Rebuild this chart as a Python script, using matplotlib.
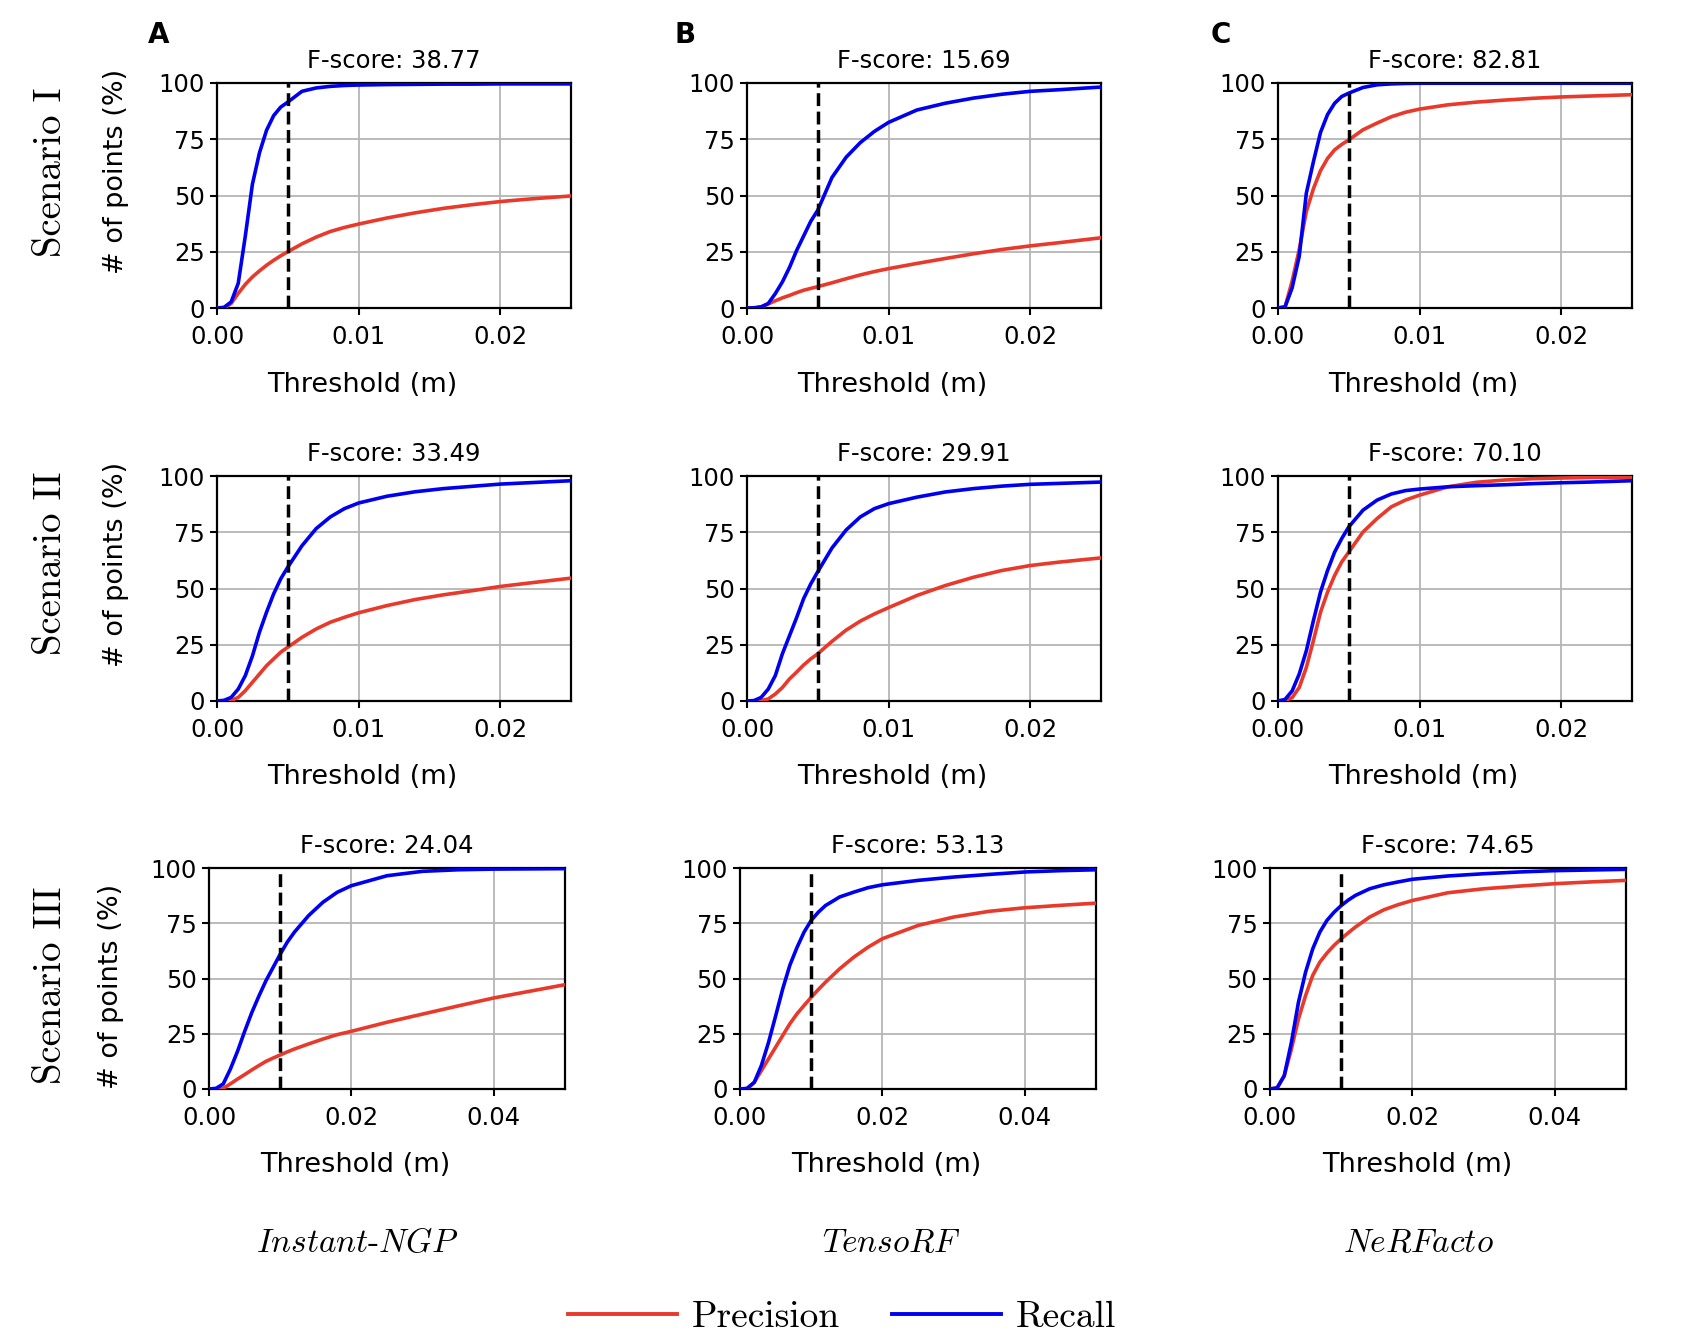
import matplotlib
matplotlib.use("Agg")
import matplotlib.pyplot as plt
from matplotlib.lines import Line2D
from matplotlib.ticker import FormatStrFormatter

plt.rcParams['mathtext.fontset'] = 'cm'
plt.rcParams['font.family'] = ['DejaVu Sans']

# ---------------- data ----------------
x_short = [0, 0.0005, 0.001, 0.0015, 0.002, 0.0025, 0.003, 0.0035, 0.004, 0.0045, 0.005,
           0.006, 0.007, 0.008, 0.009, 0.010, 0.012, 0.014, 0.016, 0.018, 0.020, 0.022, 0.025]
x_long = [0, 0.001, 0.002, 0.003, 0.004, 0.005, 0.006, 0.007, 0.008, 0.009, 0.010, 0.011,
          0.012, 0.014, 0.016, 0.018, 0.020, 0.025, 0.030, 0.035, 0.040, 0.045, 0.050]

scenarios = ["Scenario I", "Scenario II", "Scenario III"]
methods = ["Instant-NGP", "TensoRF", "NeRFacto"]
panel_letters = ["A", "B", "C"]
thresholds = [0.005, 0.005, 0.01]
fscores = [["38.77", "15.69", "82.81"],
           ["33.49", "29.91", "70.10"],
           ["24.04", "53.13", "74.65"]]

# Scenario I
ngp_s1_recall = [0, 0.3, 2.7, 11, 32, 55, 69, 79, 85.5, 89.3, 91.5,
                 96.3, 97.8, 98.5, 98.9, 99.1, 99.3, 99.4, 99.5, 99.5, 99.6, 99.6, 99.6]
ngp_s1_precision = [0, 0, 2, 6.5, 10.5, 13.8, 16.5, 19, 21.2, 23.2, 25,
                    28.5, 31.5, 34, 35.8, 37.3, 40, 42.3, 44.3, 45.9, 47.3, 48.4, 49.8]
tensorf_s1_recall = [0, 0.1, 0.5, 2, 6.4, 11.6, 18, 25.5, 32, 38.5, 43.5,
                     58, 67, 73.5, 78.5, 82.5, 88, 91, 93.3, 95, 96.3, 97, 98.2]
tensorf_s1_precision = [0, 0, 0.5, 1.8, 3.2, 4.5, 5.6, 6.8, 7.9, 8.7, 9.5,
                        11.2, 13, 14.7, 16.2, 17.5, 19.8, 22, 24.1, 26, 27.6, 29, 31.2]
nerfacto_s1_recall = [0, 0.5, 9, 23, 51, 65, 78, 86, 91, 94, 95.5,
                      98, 99.2, 99.6, 99.8, 99.9, 99.9, 99.9, 99.9, 99.9, 99.9, 99.9, 99.9]
nerfacto_s1_precision = [0, 0.5, 12, 26, 42.8, 53, 61, 66.5, 70.3, 72.7, 74.7,
                         79.2, 82.2, 85, 87, 88.4, 90.3, 91.5, 92.4, 93.2, 93.8, 94.2, 94.8]

# Scenario II
ngp_s2_recall = [0, 0.3, 1.6, 5.3, 11.3, 20, 30.6, 39.5, 47.6, 54.3, 59.5,
                 69, 76.6, 81.8, 85.5, 88, 91, 93, 94.4, 95.4, 96.4, 97, 97.9]
ngp_s2_precision = [0, 0, 0.2, 1.6, 4.6, 8.3, 12, 15.7, 18.7, 21.7, 23.9,
                    28.3, 32, 35, 37.2, 39.2, 42.4, 45.1, 47.2, 49, 50.9, 52.4, 54.6]
tensorf_s2_recall = [0, 0.2, 1.6, 5.3, 11.3, 21, 29, 37, 45.5, 52, 57.5,
                     68, 76, 81.8, 85.5, 87.7, 90.6, 92.9, 94.4, 95.5, 96.3, 96.7, 97.3]
tensorf_s2_precision = [0, 0, 0.2, 0.9, 3.1, 6, 9.8, 12.8, 16, 18.7, 21,
                        26.5, 31.5, 35.5, 38.7, 41.5, 46.9, 51.3, 55, 58, 60.2, 61.7, 63.6]
nerfacto_s2_recall = [0, 0.7, 4.5, 12, 22.3, 35.7, 48.4, 58, 66.2, 72.2, 77.4,
                      84.8, 89.3, 92, 93.5, 94.2, 95.2, 95.7, 96.1, 96.6, 97, 97.3, 97.9]
nerfacto_s2_precision = [0, 0.2, 1.5, 6, 14.9, 26.8, 39.4, 48.4, 55.8, 61.8, 66.2,
                         75.1, 81.1, 86.3, 89.3, 91.5, 95.2, 97.2, 98.2, 98.8, 99.1, 99.3, 99.4]

# Scenario III
ngp_s3_recall = [0, 0.3, 2.3, 9, 17, 26, 34.5, 42, 49, 55, 61, 66.5,
                 71, 78.5, 84.5, 89, 92, 96.5, 98.5, 99.2, 99.5, 99.6, 99.7]
ngp_s3_precision = [0, 0, 0.3, 2.3, 4.5, 6.5, 8.6, 10.6, 12.5, 14, 15.4, 16.8,
                    18.1, 20.4, 22.6, 24.6, 26.1, 30.2, 33.9, 37.6, 41.2, 44.2, 47.2]
tensorf_s3_recall = [0, 0.3, 3, 10.6, 21, 33, 45.3, 56, 64, 71, 76.3, 80,
                     83, 86.9, 89.1, 91.1, 92.4, 94.4, 95.9, 97.1, 98.2, 98.8, 99.2]
tensorf_s3_precision = [0, 0.1, 3, 8.3, 13.6, 18.9, 24.2, 29.5, 34, 37.8, 41.5, 45,
                        48.3, 54.4, 59.7, 64.2, 68, 74, 77.8, 80.4, 82, 83.1, 84.1]
nerfacto_s3_recall = [0, 0.5, 6, 21, 39.3, 52.9, 63.4, 71, 76.3, 80, 83, 85.5,
                      87.6, 90.6, 92.4, 93.7, 94.9, 96.4, 97.4, 98.2, 98.8, 99.1, 99.4]
nerfacto_s3_precision = [0, 0.5, 6, 18, 31.7, 42.3, 51.4, 57.4, 61.5, 65, 68, 70.7,
                         73.3, 77.8, 81.1, 83.4, 85.3, 88.8, 90.6, 91.8, 92.9, 93.7, 94.4]

x_values = [x_short, x_short, x_long]
recall = [[ngp_s1_recall, tensorf_s1_recall, nerfacto_s1_recall],
          [ngp_s2_recall, tensorf_s2_recall, nerfacto_s2_recall],
          [ngp_s3_recall, tensorf_s3_recall, nerfacto_s3_recall]]
precision = [[ngp_s1_precision, tensorf_s1_precision, nerfacto_s1_precision],
             [ngp_s2_precision, tensorf_s2_precision, nerfacto_s2_precision],
             [ngp_s3_precision, tensorf_s3_precision, nerfacto_s3_precision]]
x_max = [0.025, 0.025, 0.05]
x_ticks = [[0, 0.01, 0.02], [0, 0.01, 0.02], [0, 0.02, 0.04]]

# ---------------- layout ----------------
W, H = 1684, 1342
fig = plt.figure(figsize=(W / 100, H / 100), dpi=100)

RED = '#e8392b'
BLUE = '#0000f0'

col_left = [[217, 747, 1278], [217, 747, 1278], [209, 740, 1270]]
col_w = [354, 354, 356]
row_top = [83, 476, 868]
row_h = [225, 225, 221]
xlabel_x = [[362, 892, 1423], [362, 892, 1423], [355, 886, 1417]]
xlabel_y = [385, 777, 1165]
ylabel_x = [116, 116, 111]
ylabel_y = [171, 564, 986]

for r in range(3):
    for c in range(3):
        l = col_left[r][c] / W
        b = 1 - (row_top[r] + row_h[r]) / H
        ax = fig.add_axes([l, b, col_w[r] / W, row_h[r] / H])
        ax.plot(x_values[r], precision[r][c], color=RED, lw=2.6, zorder=3)
        ax.plot(x_values[r], recall[r][c], color=BLUE, lw=2.6, zorder=4)
        ax.axvline(thresholds[r], color='black', ls='--', lw=2.5, zorder=5)
        ax.set_xlim(0, x_max[r])
        ax.set_ylim(0, 100)
        ax.set_xticks(x_ticks[r])
        ax.set_yticks([0, 25, 50, 75, 100])
        ax.xaxis.set_major_formatter(FormatStrFormatter('%.2f'))
        ax.grid(True, color='#b5b5b5', lw=1.3, zorder=0)
        ax.set_axisbelow(True)
        for s in ax.spines.values():
            s.set_linewidth(1.6)
        ax.tick_params(labelsize=17.5, length=5, width=1.5)
        ax.tick_params(axis='x', pad=7)
        ax.tick_params(axis='y', pad=4)
        ax.set_title(f"F-score: {fscores[r][c]}", fontsize=17.5, pad=11)
        ax.set_xlabel("Threshold (m)", fontsize=19.5)
        ax.xaxis.set_label_coords(xlabel_x[r][c] / W, 1 - xlabel_y[r] / H, transform=fig.transFigure)
        ax.xaxis.label.set_va('center')
        if c == 0:
            ax.set_ylabel("# of points (%)", fontsize=19.5)
            ax.yaxis.set_label_coords(ylabel_x[r] / W, 1 - ylabel_y[r] / H, transform=fig.transFigure)
            ax.yaxis.label.set_va('center')

# scenario labels
scen_y = [172, 563, 985]
for r in range(3):
    fig.text(51 / W, 1 - scen_y[r] / H, scenarios[r], rotation=90, ha='center', va='center',
             fontsize=28, family='cmr10')

# panel letters
letter_x = [159, 685, 1221]
for c in range(3):
    fig.text(letter_x[c] / W, 1 - 35 / H, panel_letters[c], ha='center', va='center',
             fontsize=20, fontweight='bold')

# method names
method_labels = [r'$\mathit{Instant}$-$\mathit{NGP}$', r'$\mathit{TensoRF}$', r'$\mathit{NeRFacto}$']
method_x = [358, 891, 1418]
for c in range(3):
    fig.text(method_x[c] / W, 1 - 1243 / H, method_labels[c], ha='center', va='center',
             fontsize=24, family='cmr10')

# legend
handles = [Line2D([], [], color=RED, lw=2.8), Line2D([], [], color=BLUE, lw=2.8)]
fig.legend(handles, ["Precision", "Recall"], loc='center', bbox_to_anchor=(842 / W, 1 - 1317 / H),
           ncol=2, frameon=False, prop={'family': 'cmr10', 'size': 27},
           handlelength=2.9, handletextpad=0.4, columnspacing=1.4)

fig.savefig("out.png", dpi=100, facecolor='white')
